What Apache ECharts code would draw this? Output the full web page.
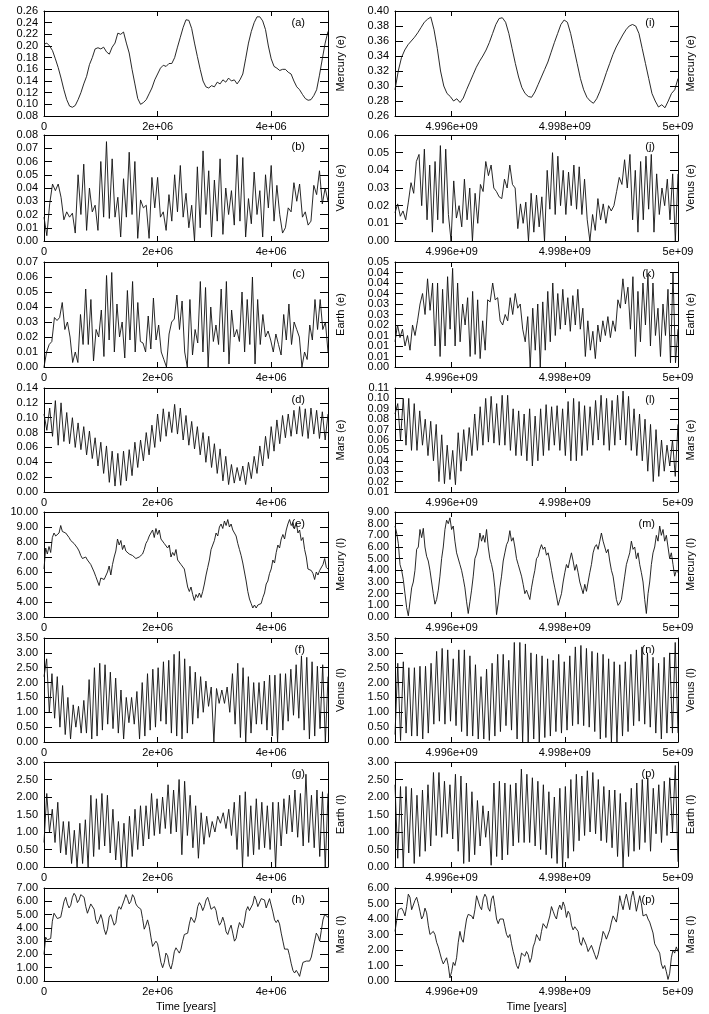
<!DOCTYPE html>
<html>
<head>
<meta charset="utf-8">
<title>Eccentricity and inclination of the inner planets</title>
<script src="https://cdn.jsdelivr.net/npm/echarts@6/dist/echarts.min.js"></script>
<style>
  html, body { margin: 0; padding: 0; background: #fff; }
  #chart { width: 709px; height: 1014px; }
</style>
</head>
<body>
<div id="chart"></div>
<script>
// time axes
const earlySpan = [0, 5e6]
const lateSpan = [4.995e9, 5e9]
const earlyTicks = [0, 2e6, 4e6]
const earlyTickLabels = ['0', '2e+06', '4e+06']
const lateTicks = [4.996e9, 4.998e9, 5e9]
const lateTickLabels = ['4.996e+09', '4.998e+09', '5e+09']
// panel (k) has ticks every 0.005 printed with two decimals
const kTickLabels = ['0.00', '0.01', '0.01', '0.01', '0.02', '0.03', '0.03', '0.04', '0.04', '0.04', '0.05']

// first 5 Myr (left column), values evenly spaced in time
const aMercuryE = [0.203,0.205,0.200,0.192,0.178,0.163,0.145,0.125,0.108,0.097,0.095,0.098,0.108,0.120,0.135,0.148,0.168,0.180,0.195,0.197,0.195,0.198,0.190,0.186,0.198,0.205,0.222,0.220,0.224,0.205,0.188,0.160,0.135,0.110,0.100,0.103,0.108,0.118,0.128,0.142,0.152,0.162,0.167,0.165,0.170,0.170,0.180,0.198,0.215,0.232,0.245,0.244,0.230,0.205,0.182,0.160,0.140,0.130,0.128,0.132,0.130,0.138,0.135,0.142,0.138,0.145,0.140,0.142,0.135,0.142,0.152,0.178,0.205,0.225,0.240,0.250,0.250,0.243,0.228,0.200,0.178,0.165,0.162,0.158,0.160,0.160,0.155,0.152,0.140,0.130,0.125,0.117,0.110,0.107,0.108,0.115,0.125,0.150,0.178,0.205,0.225]
const bVenusE = [0.018,0.004,0.028,0.043,0.038,0.043,0.033,0.016,0.022,0.018,0.021,0.006,0.050,0.020,0.058,0.008,0.040,0.022,0.027,0.008,0.060,0.018,0.075,0.017,0.062,0.018,0.033,0.003,0.047,0.018,0.067,0.020,0.060,0.002,0.031,0.025,0.027,0.002,0.048,0.025,0.048,0.018,0.022,0.008,0.035,0.015,0.050,0.022,0.057,0.018,0.036,0.010,0.027,0.000,0.056,0.010,0.068,0.020,0.053,0.003,0.046,0.015,0.062,0.005,0.040,0.020,0.038,0.012,0.065,0.015,0.063,0.003,0.032,0.013,0.052,0.020,0.038,0.003,0.050,0.025,0.057,0.015,0.042,0.020,0.006,0.010,0.025,0.022,0.044,0.030,0.043,0.018,0.022,0.012,0.015,0.042,0.035,0.053,0.028,0.040,0.030]
const cEarthE = [0.000,0.010,0.015,0.017,0.033,0.031,0.033,0.043,0.025,0.030,0.020,0.003,0.010,0.003,0.035,0.015,0.052,0.015,0.045,0.004,0.025,0.020,0.038,0.007,0.061,0.018,0.063,0.010,0.042,0.020,0.030,0.006,0.051,0.018,0.057,0.010,0.043,0.017,0.016,0.010,0.034,0.012,0.046,0.018,0.028,0.010,0.005,0.000,0.022,0.030,0.032,0.048,0.025,0.044,0.010,0.000,0.045,0.008,0.025,0.016,0.057,0.010,0.053,0.000,0.040,0.017,0.028,0.015,0.052,0.010,0.057,0.002,0.038,0.020,0.025,0.017,0.050,0.010,0.045,0.015,0.060,0.002,0.045,0.015,0.035,0.020,0.024,0.018,0.010,0.022,0.015,0.008,0.035,0.018,0.042,0.015,0.030,0.025,0.020,0.000,0.010,0.005,0.028,0.018,0.045,0.025,0.045,0.025,0.030,0.010]
const dMarsE = [0.105,0.083,0.113,0.075,0.123,0.063,0.120,0.068,0.107,0.065,0.100,0.060,0.093,0.057,0.088,0.050,0.082,0.045,0.073,0.035,0.067,0.025,0.062,0.013,0.055,0.008,0.052,0.009,0.055,0.015,0.057,0.022,0.067,0.033,0.070,0.042,0.080,0.050,0.090,0.060,0.105,0.068,0.112,0.075,0.108,0.080,0.118,0.078,0.113,0.070,0.103,0.063,0.095,0.058,0.088,0.050,0.080,0.040,0.075,0.033,0.065,0.025,0.058,0.015,0.048,0.010,0.037,0.012,0.033,0.015,0.035,0.010,0.040,0.018,0.048,0.025,0.062,0.035,0.075,0.045,0.088,0.055,0.097,0.065,0.103,0.073,0.105,0.075,0.110,0.078,0.115,0.075,0.112,0.072,0.113,0.078,0.110,0.072,0.108,0.070,0.105]
const eMercuryI = [6.2,7.6,7.2,7.7,7.3,8.3,8.6,8.4,8.5,8.6,9.1,8.7,8.6,8.6,8.5,8.3,8.1,8.0,7.9,7.8,7.6,7.4,7.1,6.9,6.9,7.0,6.8,6.8,6.5,6.4,6.0,5.7,5.6,5.1,5.6,5.5,5.5,5.4,6.0,6.4,5.8,6.5,7.0,7.4,8.2,7.8,8.1,7.5,7.8,7.4,7.3,7.2,7.1,7.1,7.0,6.9,6.9,7.0,7.1,7.2,7.5,7.9,8.1,8.4,8.6,8.8,8.3,8.9,8.5,8.8,8.2,8.3,7.9,8.0,7.6,7.8,7.0,7.3,7.1,7.5,6.8,6.9,6.5,6.6,6.2,6.3,5.0,4.7,5.0,4.5,4.1,4.5,4.3,4.6,4.3,4.7,5.2,5.8,6.3,6.8,7.5,7.8,8.1,8.6,8.4,9.0,9.2,8.9,9.4,9.1,9.5,9.0,9.2,8.8,8.8,8.4,7.9,7.5,7.1,6.6,6.0,5.4,4.7,4.2,3.9,3.6,3.8,3.6,3.8,3.7,3.9,4.3,4.6,5.2,5.4,5.9,6.2,6.8,6.6,7.3,7.8,7.6,8.2,8.5,8.2,8.8,9.2,9.5,9.1,9.3,8.9,9.3,8.6,8.8,8.1,8.3,7.5,7.0,6.2,6.3,6.1,5.9,5.5,6.0,5.8,6.1,6.0,6.5,6.9,6.3,6.2]
const fVenusI = [2.2,2.8,1.0,2.3,0.8,2.2,0.5,1.9,0.25,1.5,0.1,1.25,0.5,1.2,0.3,1.4,0.3,2.1,0.1,2.5,0.2,2.65,0.4,2.6,0.6,2.35,0.45,2.15,0.3,1.75,0.1,1.5,0.65,1.5,0.6,1.7,0.1,2.0,0.2,2.3,0.4,2.45,0.5,2.5,0.7,2.7,0.6,2.75,0.3,2.95,0.2,3.05,0.1,2.8,0.3,2.55,0.6,2.35,0.8,2.2,1.0,2.05,1.2,1.85,0.0,1.8,1.3,1.75,1.3,1.85,1.0,2.3,0.6,2.65,0.15,2.5,0.0,2.2,0.3,2.0,0.6,2.0,0.6,2.05,0.4,2.25,0.2,2.25,0.0,2.3,0.4,2.3,0.7,2.45,0.9,2.6,0.8,2.9,0.4,2.85,0.1,2.7,0.2,2.55,0.45,2.6,0.0,2.2]
const gEarthI = [0.7,2.1,1.0,1.65,0.7,1.85,0.4,1.3,0.35,1.3,0.1,1.05,0.0,1.25,0.1,1.35,0.0,2.05,0.3,1.95,0.5,2.1,0.6,2.05,0.4,1.65,0.2,1.3,0.0,1.25,0.0,1.45,0.3,1.65,0.5,1.75,0.6,1.75,0.8,2.1,0.9,1.95,0.95,2.0,1.1,2.35,0.95,2.2,1.0,2.5,0.35,2.45,0.9,2.05,0.55,1.75,0.25,1.55,0.65,1.45,0.85,1.3,1.0,1.45,1.25,1.55,1.1,1.65,0.9,1.85,0.5,2.05,0.0,2.15,0.3,1.75,0.35,1.95,0.5,1.85,0.55,1.75,0.5,1.85,0.0,1.85,0.6,1.95,0.95,2.05,1.0,2.2,0.85,2.1,0.6,2.65,0.7,2.05,0.55,2.2,0.3,2.15,0.0,2.1]
const hMarsI = [2.0,3.3,3.1,3.0,3.2,4.5,5.1,4.9,4.7,4.7,4.8,5.4,6.0,6.3,5.8,5.5,5.7,6.3,6.6,6.4,5.9,6.1,6.5,6.6,6.3,5.6,5.1,5.2,5.8,5.9,5.4,4.6,4.3,4.6,5.0,4.6,3.9,3.5,3.9,4.8,5.0,4.6,4.2,4.4,5.3,5.6,5.4,5.5,6.1,6.5,6.2,5.8,6.0,6.5,6.3,5.8,5.6,5.7,5.4,4.7,3.9,4.2,4.6,4.1,3.3,2.6,2.5,3.0,2.8,2.1,1.4,1.0,1.4,2.1,1.9,1.2,0.9,1.4,2.2,2.5,2.3,2.1,2.4,3.0,3.5,3.4,3.6,4.3,4.8,4.6,4.4,4.8,5.6,5.9,5.7,5.3,5.6,6.1,6.3,5.9,5.4,5.3,5.6,5.3,4.6,4.2,4.4,4.8,4.4,3.7,3.5,3.9,4.2,3.6,3.0,3.2,3.9,4.4,4.2,4.0,4.5,5.3,5.6,5.3,5.2,5.8,6.4,6.1,5.6,5.7,6.2,6.3,6.1,5.5,5.6,6.2,6.1,5.2,4.6,4.4,4.6,4.3,3.6,3.0,2.4,2.5,2.4,1.9,1.3,0.8,0.6,0.8,0.6,0.35,0.9,1.4,1.3,1.5,1.6,1.5,1.8,2.4,3.0,3.6,3.4,3.0,3.8,4.6,5.0,4.9,4.8]

// last 5 Myr (right column)
const iMercuryE = [0.295,0.320,0.338,0.348,0.355,0.360,0.365,0.371,0.378,0.385,0.389,0.392,0.375,0.350,0.320,0.300,0.290,0.286,0.280,0.283,0.278,0.284,0.295,0.305,0.315,0.325,0.333,0.340,0.348,0.358,0.370,0.382,0.390,0.391,0.385,0.370,0.350,0.330,0.312,0.298,0.290,0.286,0.285,0.292,0.302,0.312,0.322,0.332,0.345,0.358,0.370,0.382,0.388,0.385,0.370,0.350,0.330,0.310,0.295,0.285,0.280,0.277,0.283,0.293,0.305,0.318,0.330,0.342,0.352,0.360,0.368,0.375,0.380,0.382,0.380,0.370,0.350,0.330,0.310,0.290,0.280,0.272,0.275,0.271,0.280,0.290,0.295,0.310]
const jVenusE = [0.016,0.021,0.014,0.017,0.012,0.022,0.033,0.027,0.045,0.049,0.020,0.052,0.012,0.043,0.005,0.045,0.012,0.054,0.010,0.052,0.015,0.000,0.034,0.013,0.020,0.008,0.035,0.012,0.030,0.000,0.027,0.010,0.032,0.028,0.045,0.037,0.043,0.030,0.028,0.025,0.024,0.035,0.030,0.043,0.032,0.030,0.007,0.021,0.010,0.022,0.000,0.027,0.005,0.026,0.008,0.025,0.000,0.040,0.018,0.050,0.015,0.048,0.020,0.040,0.015,0.039,0.020,0.043,0.018,0.042,0.015,0.035,0.012,0.000,0.015,0.006,0.024,0.012,0.021,0.010,0.020,0.017,0.020,0.028,0.036,0.032,0.046,0.030,0.049,0.012,0.040,0.005,0.045,0.012,0.048,0.018,0.049,0.005,0.038,0.015,0.030,0.020,0.035,0.012,0.038,0.000,0.038]
const kEarthE = [0.012,0.020,0.014,0.018,0.010,0.015,0.008,0.020,0.015,0.022,0.030,0.035,0.025,0.042,0.027,0.040,0.010,0.040,0.005,0.037,0.010,0.043,0.018,0.047,0.010,0.040,0.012,0.030,0.020,0.033,0.005,0.036,0.006,0.032,0.004,0.022,0.008,0.032,0.031,0.040,0.032,0.033,0.022,0.020,0.025,0.022,0.033,0.025,0.035,0.028,0.030,0.018,0.012,0.024,0.000,0.028,0.008,0.030,0.000,0.031,0.008,0.036,0.012,0.040,0.015,0.035,0.018,0.037,0.020,0.033,0.017,0.034,0.020,0.037,0.018,0.028,0.005,0.022,0.008,0.017,0.004,0.020,0.012,0.022,0.015,0.024,0.014,0.022,0.017,0.032,0.028,0.042,0.030,0.038,0.018,0.043,0.005,0.036,0.012,0.040,0.020,0.044,0.010,0.040,0.015,0.028,0.005,0.030,0.015,0.037,0.002,0.045,0.002,0.018]
const lMarsE = [0.085,0.095,0.060,0.100,0.055,0.100,0.050,0.095,0.050,0.088,0.055,0.080,0.045,0.078,0.040,0.075,0.020,0.065,0.018,0.055,0.022,0.050,0.017,0.067,0.030,0.070,0.040,0.072,0.045,0.085,0.050,0.092,0.055,0.100,0.058,0.102,0.057,0.095,0.055,0.103,0.055,0.103,0.050,0.090,0.045,0.088,0.045,0.085,0.040,0.090,0.035,0.083,0.040,0.090,0.045,0.094,0.050,0.092,0.055,0.093,0.050,0.090,0.045,0.097,0.040,0.100,0.040,0.097,0.045,0.093,0.050,0.092,0.055,0.098,0.060,0.103,0.055,0.100,0.050,0.098,0.055,0.103,0.060,0.107,0.055,0.102,0.050,0.090,0.045,0.085,0.040,0.080,0.030,0.075,0.020,0.070,0.025,0.060,0.030,0.055,0.035,0.060,0.025,0.075]
const mMercuryI = [7.8,7.2,6.3,4.5,4.0,3.2,2.0,0.8,0.1,1.3,2.5,3.0,4.0,5.8,6.0,7.5,6.8,7.6,6.0,5.2,4.8,4.0,3.0,2.0,1.1,1.5,2.3,3.5,5.0,6.0,7.5,8.3,8.0,8.5,7.5,7.8,6.5,5.5,5.5,4.5,4.0,3.3,2.5,1.3,0.3,1.3,2.3,3.5,5.0,5.4,6.0,7.2,6.5,7.0,6.4,7.5,6.0,5.0,4.5,3.8,2.5,0.2,1.2,2.5,3.5,4.8,5.5,6.2,6.5,7.4,6.5,6.8,6.0,5.0,4.5,4.5,3.5,2.8,2.0,2.3,1.9,1.5,2.5,3.3,4.0,5.0,5.2,5.8,6.2,5.8,6.0,5.3,5.5,4.8,4.0,3.2,2.5,1.8,1.0,1.5,2.0,3.0,3.8,4.5,4.2,4.9,5.5,4.8,4.0,4.5,3.8,3.0,2.5,2.0,2.8,2.2,3.0,3.8,4.5,5.5,6.0,6.2,5.8,6.5,7.2,6.5,6.0,5.5,5.8,4.8,4.0,3.5,2.5,1.5,1.0,1.2,1.5,2.5,3.5,4.5,5.0,5.5,6.5,5.8,6.0,5.0,5.5,4.5,3.8,3.0,1.5,0.3,2.0,3.0,4.5,5.5,6.0,7.0,6.5,7.8,7.0,7.5,6.5,7.0,6.0,5.0,5.5,4.5,3.5,4.0,3.8]
const nVenusI = [0.25,2.65,0.05,2.7,0.3,2.5,0.2,2.5,0.2,2.55,0.1,2.55,0.3,2.65,0.6,3.05,0.7,3.15,0.6,3.1,0.7,2.8,0.55,3.1,0.35,3.1,0.2,2.9,0.2,2.6,0.1,2.2,0.1,2.45,0.05,2.65,0.2,2.95,0.35,2.95,0.55,2.75,0.4,3.35,0.1,3.35,0.0,3.3,0.0,3.0,0.1,2.95,0.0,2.9,0.15,2.8,0.2,2.75,0.35,2.95,0.3,2.7,0.4,2.9,0.55,3.2,0.6,3.25,0.55,3.15,0.5,3.05,0.35,3.0,0.1,2.95,0.15,2.8,0.0,2.7,0.0,2.6,0.2,2.7,0.35,2.95,0.55,3.1,0.7,3.2,0.6,3.0,0.5,2.85,0.3,2.65,0.1,2.85,0.3,3.0,0.3,3.35,0.3]
const oEarthI = [2.35,0.25,2.3,0.0,2.3,0.4,2.25,0.1,2.05,0.3,2.2,0.45,2.35,0.6,2.7,0.9,2.7,0.85,2.45,0.95,2.35,0.8,2.65,0.45,2.6,0.1,2.4,0.15,2.15,0.35,1.9,0.6,1.75,0.85,1.6,0.05,2.4,0.3,2.45,0.2,2.4,0.35,2.35,0.6,2.4,0.7,2.8,0.7,2.65,0.7,2.55,0.6,2.45,0.5,2.35,0.35,2.15,0.25,2.0,0.1,2.25,0.0,2.3,0.25,2.5,0.45,2.65,0.75,2.6,0.9,2.75,1.0,2.7,0.95,2.5,0.75,2.3,0.7,2.2,0.55,2.2,0.3,2.1,0.0,1.85,0.3,2.25,0.45,2.4,0.5,2.5,0.7,2.55,0.45,2.25,0.95,2.35,0.7,2.45,0.9,2.55,1.0,2.9,0.15]
const pMarsI = [3.2,3.9,4.6,4.7,4.7,4.5,4.2,4.8,5.6,5.4,4.6,4.5,5.2,5.4,5.0,4.5,4.0,4.2,4.7,4.4,3.6,3.0,3.1,3.2,3.0,2.5,2.2,1.8,1.4,1.1,1.3,1.5,1.0,0.2,0.6,1.2,1.0,1.5,2.5,3.2,2.7,2.5,3.3,4.0,4.3,4.3,4.2,4.0,4.6,5.5,5.6,4.8,4.6,5.3,5.6,5.4,4.7,4.5,5.3,5.5,4.8,4.0,3.7,4.0,4.1,4.0,3.5,3.0,2.8,3.0,2.4,1.9,1.5,1.0,0.8,1.2,1.8,1.7,1.6,1.9,1.7,1.2,1.5,2.2,2.5,3.0,2.8,2.6,3.2,3.7,3.8,3.4,3.5,4.2,4.8,4.5,4.2,4.0,4.6,4.9,4.6,5.1,4.8,4.1,4.5,4.3,3.6,3.3,3.5,3.6,3.2,2.5,2.3,2.8,2.9,2.3,1.9,1.8,2.3,2.3,1.7,1.4,1.7,2.2,2.6,3.2,3.0,2.7,2.7,3.3,3.8,4.2,4.0,3.8,4.5,5.5,5.0,4.6,5.2,5.6,5.1,4.6,5.4,5.8,5.2,4.5,4.6,5.5,5.0,4.2,4.1,4.3,4.0,3.8,3.7,3.1,2.4,2.2,2.3,1.8,1.1,0.8,1.0,0.6,0.1,0.5,1.5,2.0,1.8,2.2,1.9]

const panels = [
  { tag: '(a)', col: 0, row: 0, name: 'Mercury (e)', min: 0.08, max: 0.26, step: 0.02, values: aMercuryE },
  { tag: '(b)', col: 0, row: 1, name: 'Venus (e)', min: 0, max: 0.08, step: 0.01, values: bVenusE },
  { tag: '(c)', col: 0, row: 2, name: 'Earth (e)', min: 0, max: 0.07, step: 0.01, values: cEarthE },
  { tag: '(d)', col: 0, row: 3, name: 'Mars (e)', min: 0, max: 0.14, step: 0.02, values: dMarsE },
  { tag: '(e)', col: 0, row: 4, name: 'Mercury (I)', min: 3, max: 10, step: 1, values: eMercuryI },
  { tag: '(f)', col: 0, row: 5, name: 'Venus (I)', min: 0, max: 3.5, step: 0.5, values: fVenusI },
  { tag: '(g)', col: 0, row: 6, name: 'Earth (I)', min: 0, max: 3, step: 0.5, values: gEarthI },
  { tag: '(h)', col: 0, row: 7, name: 'Mars (I)', min: 0, max: 7, step: 1, values: hMarsI },
  { tag: '(i)', col: 1, row: 0, name: 'Mercury (e)', min: 0.26, max: 0.40, step: 0.02, values: iMercuryE },
  { tag: '(j)', col: 1, row: 1, name: 'Venus (e)', min: 0, max: 0.06, step: 0.01, values: jVenusE },
  { tag: '(k)', col: 1, row: 2, name: 'Earth (e)', min: 0, max: 0.05, step: 0.005, values: kEarthE, labels: kTickLabels },
  { tag: '(l)', col: 1, row: 3, name: 'Mars (e)', min: 0.01, max: 0.11, step: 0.01, values: lMarsE },
  { tag: '(m)', col: 1, row: 4, name: 'Mercury (I)', min: 0, max: 9, step: 1, values: mMercuryI },
  { tag: '(n)', col: 1, row: 5, name: 'Venus (I)', min: 0, max: 3.5, step: 0.5, values: nVenusI },
  { tag: '(p)', col: 1, row: 6, name: 'Earth (I)', min: 0, max: 3, step: 0.5, values: oEarthI },
  { tag: '(p)', col: 1, row: 7, name: 'Mars (I)', min: 0, max: 6, step: 1, values: pMarsI }
]

// layout of the 8 x 2 frames
const rowTop = [11, 135, 262, 388, 512, 638, 762, 888]
const rowHeight = [105, 106, 105, 104, 105, 104, 105, 93]
const colLeft = [44, 395]
const colWidth = [284, 283]

const FONT = 'Liberation Sans'
const ink = '#000'

const grid = []
const xAxis = []
const yAxis = []
const extraY = []
const series = []
const graphic = []

panels.forEach((p, i) => {
  const span = p.col === 0 ? earlySpan : lateSpan
  const ticks = p.col === 0 ? earlyTicks : lateTicks
  const tickLabels = p.col === 0 ? earlyTickLabels : lateTickLabels
  const left = colLeft[p.col]
  const top = rowTop[p.row]
  const width = colWidth[p.col]
  const height = rowHeight[p.row]
  const lastRow = p.row === 7

  grid.push({ left: left, top: top, width: width, height: height })

  // y tick values; when they are packed tighter than a text line the labels are
  // split over two axes so that ECharts keeps every one of them
  const count = Math.round((p.max - p.min) / p.step)
  const yTicks = Array.from({ length: count + 1 }, (_, k) => +(p.min + k * p.step).toFixed(4))
  const dense = height / count < 12
  const labelOf = v => p.labels ? p.labels[Math.round((v - p.min) / p.step)] : v.toFixed(2)
  const labelStyle = { margin: 6, fontFamily: FONT, fontSize: 11, color: ink, formatter: labelOf }

  const frame = { show: true, onZero: false, lineStyle: { color: ink, width: 1 } }
  // bottom time axis with labels
  xAxis.push({
    type: 'value', gridIndex: i, position: 'bottom',
    min: span[0], max: span[1],
    axisLine: frame,
    axisTick: { show: true, inside: true, length: 5, customValues: ticks, lineStyle: { color: ink } },
    axisLabel: {
      show: true, customValues: ticks, margin: 5,
      fontFamily: FONT, fontSize: 11, color: ink,
      formatter: (v, idx) => tickLabels[ticks.indexOf(v)] ?? tickLabels[idx]
    },
    splitLine: { show: false },
    name: lastRow ? 'Time [years]' : '',
    nameLocation: 'middle', nameGap: 20,
    nameTextStyle: { fontFamily: FONT, fontSize: 11, color: ink }
  })
  // mirrored ticks on top
  xAxis.push({
    type: 'value', gridIndex: i, position: 'top',
    min: span[0], max: span[1],
    axisLine: frame,
    axisTick: { show: true, inside: true, length: 5, customValues: ticks, lineStyle: { color: ink } },
    axisLabel: { show: false },
    splitLine: { show: false }
  })
  // left value axis
  yAxis.push({
    type: 'value', gridIndex: i, position: 'left',
    min: p.min, max: p.max, interval: p.step,
    axisLine: frame,
    axisTick: { show: true, inside: true, length: 8, lineStyle: { color: ink } },
    axisLabel: Object.assign({}, labelStyle, {
      customValues: dense ? yTicks.filter((_, k) => k % 2 === 0) : yTicks
    }),
    splitLine: { show: false }
  })
  // right axis: mirrored ticks and the quantity name
  yAxis.push({
    type: 'value', gridIndex: i, position: 'right',
    min: p.min, max: p.max, interval: p.step,
    axisLine: frame,
    axisTick: { show: true, inside: true, length: 8, lineStyle: { color: ink } },
    axisLabel: { show: false },
    splitLine: { show: false },
    name: p.name, nameLocation: 'middle', nameRotate: 90, nameGap: 7,
    nameTextStyle: { fontFamily: FONT, fontSize: 11, color: ink }
  })
  if (dense) {
    extraY.push({
      type: 'value', gridIndex: i, position: 'left',
      min: p.min, max: p.max,
      axisLine: { show: false },
      axisTick: { show: false },
      axisLabel: Object.assign({}, labelStyle, {
        customValues: yTicks.filter((_, k) => k % 2 === 1)
      }),
      splitLine: { show: false }
    })
  }

  const dt = (span[1] - span[0]) / (p.values.length - 1)
  series.push({
    type: 'line',
    xAxisIndex: 2 * i,
    yAxisIndex: 2 * i,
    data: p.values.map((v, k) => [span[0] + k * dt, v]),
    showSymbol: false,
    symbol: 'none',
    silent: true,
    lineStyle: { color: '#111', width: 0.9 }
  })

  graphic.push({
    type: 'text',
    x: left + width - 23,
    y: top + 12,
    style: { text: p.tag, font: '11px ' + FONT, fill: ink, align: 'right', verticalAlign: 'middle' }
  })
})

const chart = echarts.init(document.getElementById('chart'))
chart.setOption({
  animation: false,
  backgroundColor: '#fff',
  grid: grid,
  xAxis: xAxis,
  yAxis: yAxis.concat(extraY),
  series: series,
  graphic: graphic
})
</script>
</body>
</html>
